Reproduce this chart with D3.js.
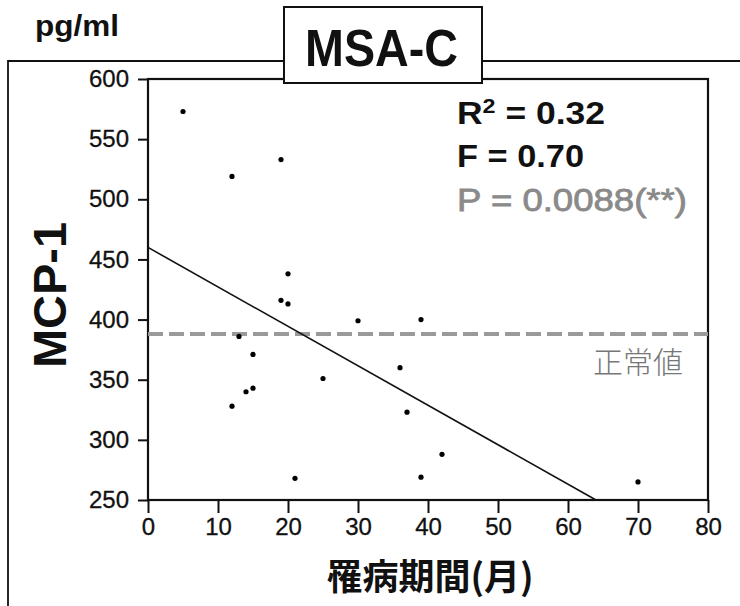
<!DOCTYPE html>
<html>
<head>
<meta charset="utf-8">
<script src="https://cdn.jsdelivr.net/npm/d3@7"></script>
<style>
  html, body { margin: 0; padding: 0; background: #fff; }
  svg { display: block; }
</style>
</head>
<body>
<svg id="chart" width="740" height="606"></svg>
<script>
// ---- data ----
const durationMonths = [5, 19, 12, 20, 19, 20, 30, 39, 13, 15, 14, 15, 12, 25, 36, 37, 21, 39, 42, 70];
const mcp1Values     = [573, 533, 519, 438, 416, 413, 399, 400, 386, 371, 340, 343, 328, 351, 360, 323, 268, 269, 288, 265];
const regressionX = [0, 64];
const regressionY = [460, 250];
const normalValue = 388;
const xTicks = [0, 10, 20, 30, 40, 50, 60, 70, 80];
const yTicks = [250, 300, 350, 400, 450, 500, 550, 600];
const statsLines = ["R", "F = 0.70", "P = 0.0088(**)"];

const SANS = "'Liberation Sans', Arial, Helvetica, sans-serif";
const CJK = "'Noto Sans CJK JP', 'Noto Sans CJK SC', sans-serif";

const svg = d3.select("#chart");
svg.append("rect").attr("width", 740).attr("height", 606).attr("fill", "#fff");

const x = d3.scaleLinear().domain([0, 80]).range([148, 708]);
const y = d3.scaleLinear().domain([250, 600]).range([500, 79]);

// outer frame lines
svg.append("path")
  .attr("d", "M8,606 L8,61 L284,61 M482,61 L740,61")
  .attr("fill", "none").attr("stroke", "#111").attr("stroke-width", 1.8);

// plot frame
svg.append("rect")
  .attr("x", x(0)).attr("y", y(600))
  .attr("width", x(80) - x(0)).attr("height", y(250) - y(600))
  .attr("fill", "none").attr("stroke", "#111").attr("stroke-width", 2.2);

// axes
const yAxis = d3.axisLeft(y).tickValues(yTicks).tickSize(10).tickPadding(9);
const gy = svg.append("g").attr("transform", `translate(${x(0)},0)`).call(yAxis);
gy.attr("font-size", 24);
gy.select(".domain").remove();
gy.selectAll(".tick line").attr("stroke", "#111").attr("stroke-width", 2);
gy.selectAll(".tick text").attr("font-family", SANS).style("font-size", "24px").attr("fill", "#111")
  .attr("stroke", "#111").attr("stroke-width", 0.3);

const xAxis = d3.axisBottom(x).tickValues(xTicks).tickSize(13).tickPadding(5);
const gx = svg.append("g").attr("transform", `translate(0,${y(250)})`).call(xAxis);
gx.attr("font-size", 24);
gx.select(".domain").remove();
gx.selectAll(".tick line").attr("stroke", "#111").attr("stroke-width", 2);
gx.selectAll(".tick text").attr("font-family", SANS).style("font-size", "24px").attr("fill", "#111")
  .attr("stroke", "#111").attr("stroke-width", 0.3);

// normal value dashed line
svg.append("line")
  .attr("x1", x(0)).attr("x2", x(80))
  .attr("y1", y(normalValue)).attr("y2", y(normalValue))
  .attr("stroke", "#9a9a9a").attr("stroke-width", 4)
  .attr("stroke-dasharray", "15,6");

svg.append("text")
  .attr("x", 683).attr("y", 373)
  .attr("text-anchor", "end")
  .attr("font-family", CJK).attr("font-weight", 300)
  .attr("font-size", 30).attr("fill", "#777")
  .text("正常値");

// regression line
svg.append("line")
  .attr("x1", x(regressionX[0])).attr("y1", y(regressionY[0]))
  .attr("x2", x(regressionX[1])).attr("y2", y(regressionY[1]))
  .attr("stroke", "#111").attr("stroke-width", 1.6);

// points
svg.append("g").selectAll("circle")
  .data(durationMonths.map((d, i) => [d, mcp1Values[i]]))
  .join("circle")
  .attr("cx", d => x(d[0])).attr("cy", d => y(d[1]))
  .attr("r", 2.6).attr("fill", "#000");

// title box
svg.append("rect")
  .attr("x", 284).attr("y", 7).attr("width", 198).attr("height", 76)
  .attr("fill", "#fff").attr("stroke", "#111").attr("stroke-width", 2);
svg.append("text")
  .attr("x", 305).attr("y", 66)
  .attr("font-family", SANS).attr("font-weight", "bold")
  .attr("font-size", 51)
  .attr("textLength", 153).attr("lengthAdjust", "spacingAndGlyphs")
  .attr("fill", "#111")
  .text("MSA-C");

// unit label
svg.append("text")
  .attr("x", 35).attr("y", 36)
  .attr("font-family", SANS).attr("font-weight", "bold")
  .attr("font-size", 29)
  .attr("textLength", 84).attr("lengthAdjust", "spacingAndGlyphs")
  .attr("fill", "#111")
  .text("pg/ml");

// stats
const r2 = svg.append("text")
  .attr("x", 457).attr("y", 124)
  .attr("font-family", SANS).attr("font-weight", "bold")
  .attr("font-size", 32).attr("fill", "#111")
  .attr("textLength", 148).attr("lengthAdjust", "spacingAndGlyphs");
r2.append("tspan").text(statsLines[0]);
r2.append("tspan").attr("font-size", 21).attr("dy", -11).text("2");
r2.append("tspan").attr("dy", 11).text(" = 0.32");

svg.append("text")
  .attr("x", 457).attr("y", 167)
  .attr("font-family", SANS).attr("font-weight", "bold")
  .attr("font-size", 32).attr("fill", "#111")
  .attr("textLength", 127).attr("lengthAdjust", "spacingAndGlyphs")
  .text(statsLines[1]);

svg.append("text")
  .attr("x", 457).attr("y", 211)
  .attr("font-family", SANS).attr("font-weight", "normal")
  .attr("font-size", 32).attr("fill", "#8a8a8a")
  .attr("stroke", "#8a8a8a").attr("stroke-width", 0.8)
  .attr("textLength", 230).attr("lengthAdjust", "spacingAndGlyphs")
  .text(statsLines[2]);

// axis titles
svg.append("text")
  .attr("transform", "translate(66,295) rotate(-90)")
  .attr("text-anchor", "middle")
  .attr("font-family", SANS).attr("font-weight", "bold")
  .attr("font-size", 47)
  .attr("textLength", 146).attr("lengthAdjust", "spacingAndGlyphs")
  .attr("fill", "#111")
  .text("MCP-1");

svg.append("text")
  .attr("x", 430).attr("y", 590)
  .attr("text-anchor", "middle")
  .attr("font-family", CJK).attr("font-weight", "bold")
  .attr("font-size", 36).attr("fill", "#111")
  .text("罹病期間(月)");
</script>
</body>
</html>
